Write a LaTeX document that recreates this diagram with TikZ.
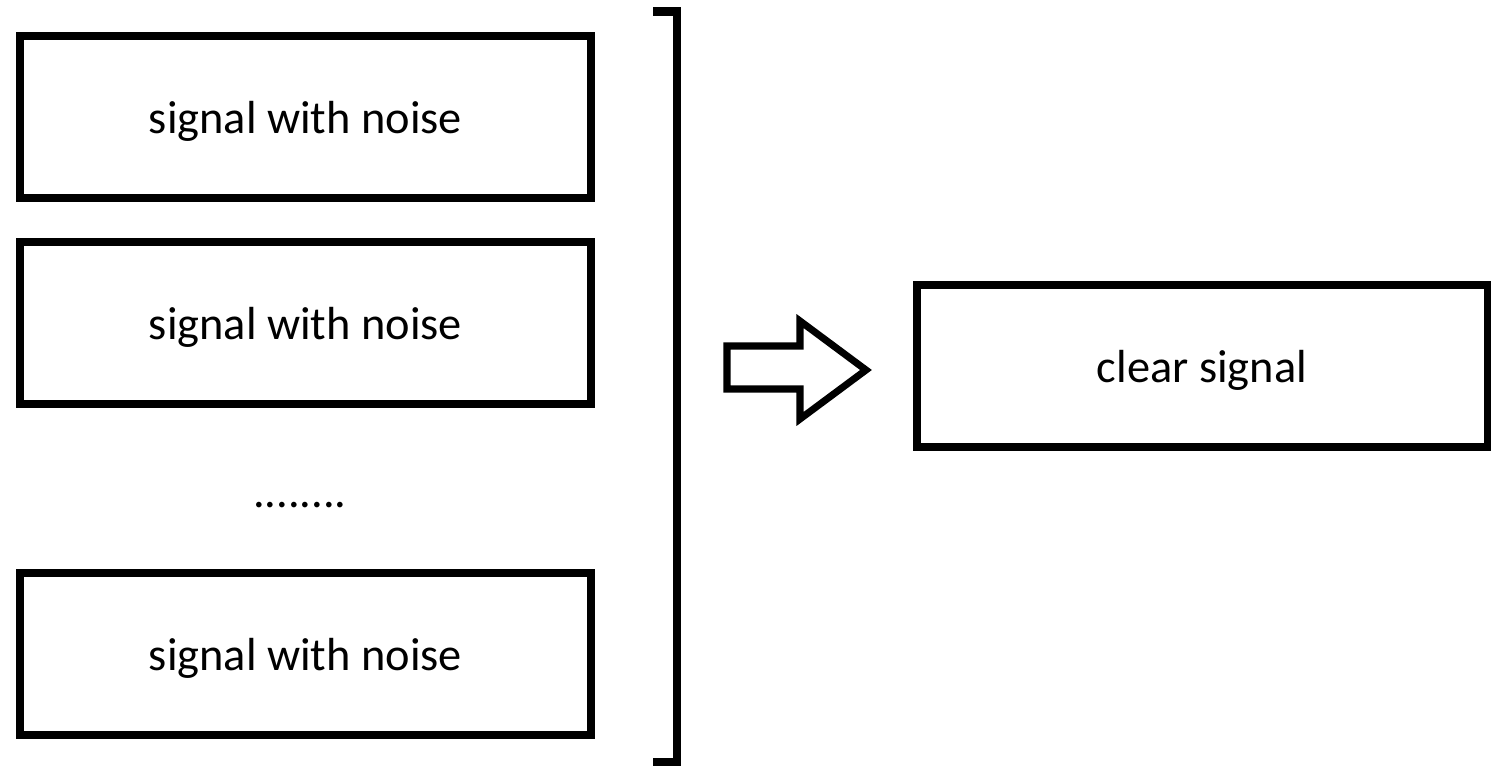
\documentclass[tikz,border=0pt]{standalone}
\usepackage{fontspec}
\setmainfont{Carlito}
\usetikzlibrary{positioning}

\tikzset{
  sigbox/.style={draw, line width=4.5pt, minimum width=11.42cm, minimum height=3.24cm,
    inner sep=0pt, text depth=0pt, font=\fontsize{26.4}{30}\selectfont},
  dotsnode/.style={inner sep=0pt, font=\fontsize{26.4}{30}\selectfont},
}

\begin{document}
\begin{tikzpicture}[x=0.02cm, y=-0.02cm]
\useasboundingbox (0,0) rectangle (1501,767);

%% noisy signals
\node[sigbox] (noisy1) at (305.5,117) {signal with noise};
\node[sigbox] (noisy2) at (305.5,323) {signal with noise};
\node[dotsnode] (dots) at (300,505) {........};
\node[sigbox] (noisy3) at (305.5,654) {signal with noise};

%% bracket
\draw[line width=5pt] (653,11.5) -- (677,11.5) -- (677,762) -- (653,762);

%% big arrow
\draw[line width=4pt] (727,346) -- (800,346) -- (800,321) -- (866,370)
  -- (800,419) -- (800,389) -- (727,389) -- cycle;

%% result
\node[sigbox] (clear) at (1202,366) {clear signal};

\end{tikzpicture}
\end{document}
